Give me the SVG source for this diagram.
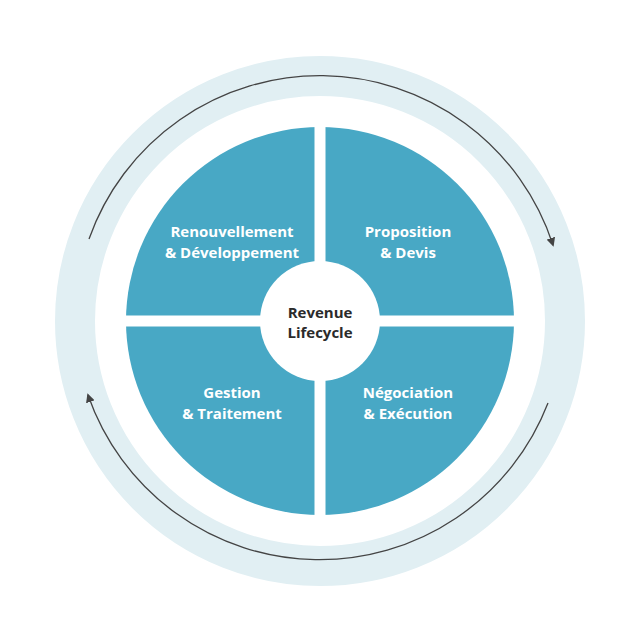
<svg xmlns="http://www.w3.org/2000/svg" width="640" height="640" viewBox="0 0 640 640">
<style>
.q{fill:#48a8c5}
.t{font-family:"Open Sans","Liberation Sans",sans-serif;font-weight:bold;font-size:15px;fill:#fff;text-anchor:middle}
.c{font-family:"Open Sans","Liberation Sans",sans-serif;font-weight:bold;font-size:15px;fill:#2b2b2b;text-anchor:middle}
.a{fill:none;stroke:#444;stroke-width:1.3}
</style>
<defs><marker id="ah" viewBox="0 0 10 10" refX="8" refY="5" markerWidth="9" markerHeight="9" markerUnits="userSpaceOnUse" orient="auto"><path d="M0,0L10,5L0,10z" fill="#444"/></marker></defs>
<rect width="640" height="640" fill="#fff"/>
<circle cx="320" cy="321" r="245" fill="none" stroke="#e1eff3" stroke-width="40"/>
<g id="connectors">
<path class="a" d="M89,239 A245,245 0 0 1 553,245" marker-end="url(#ah)"/>
<path class="a" d="M548,403 A245,245 0 0 1 88,395" marker-end="url(#ah)"/>
</g>
<g id="quadrants">
<circle class="q" cx="320" cy="321" r="194"/>
<rect x="120" y="315.5" width="400" height="11" fill="#fff"/>
<rect x="314.5" y="120" width="11" height="400" fill="#fff"/>
</g>
<g id="n1"><text class="t" x="232" y="237">Renouvellement</text><text class="t" x="232" y="258">&amp; Développement</text></g>
<g id="n2"><text class="t" x="408" y="237">Proposition</text><text class="t" x="408" y="258">&amp; Devis</text></g>
<g id="n3"><text class="t" x="232" y="398">Gestion</text><text class="t" x="232" y="419">&amp; Traitement</text></g>
<g id="n4"><text class="t" x="408" y="398">Négociation</text><text class="t" x="408" y="419">&amp; Exécution</text></g>
<g id="center"><circle cx="320" cy="321" r="60" fill="#fff"/><text class="c" x="320" y="318">Revenue</text><text class="c" x="320" y="338">Lifecycle</text></g>
</svg>
